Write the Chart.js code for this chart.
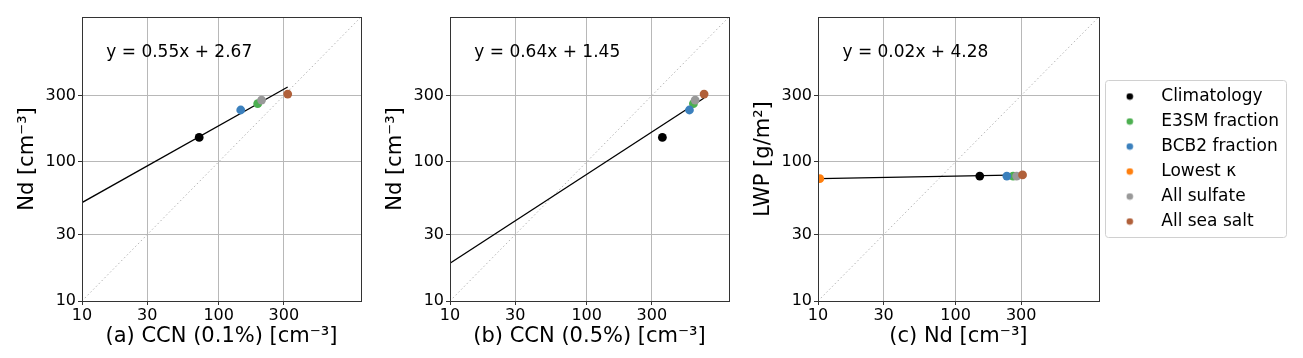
<!DOCTYPE html>
<html>
<head>
<meta charset="utf-8">
<script src="https://cdn.jsdelivr.net/npm/chart.js@4/dist/chart.umd.min.js"></script>
<style>
  body { margin: 0; background: #fff; width: 1303px; height: 358px; overflow: hidden; }
  canvas { position: absolute; top: 0; }
</style>
</head>
<body>
<canvas id="panel-a" width="368" height="358" style="left:0px"></canvas>
<canvas id="panel-b" width="368" height="358" style="left:368px"></canvas>
<canvas id="panel-c" width="567" height="358" style="left:736px"></canvas>
<script>
const categories = ["Climatology", "E3SM fraction", "BCB2 fraction", "Lowest \u03BA", "All sulfate", "All sea salt"];
const colors = ["#000000", "#4caf50", "#3b80bd", "#ff7f0e", "#999999", "#b0603a"];

// values; "Lowest κ" CCN lies left of the axis (off chart)
const nd = [150, 262, 236, 10.3, 278, 307];
const ccn01 = [72, 193, 145, 5, 206, 320];
const ccn05 = [358, 604, 565, 5, 622, 723];
const lwp = [79, 79, 79, 75.7, 79, 80.6];

const fitAX = [10, 320], fitAY = [51, 345];
const fitBX = [10, 723], fitBY = [18.7, 288];
const fitCX = [10.3, 307], fitCY = [75.7, 80.6];

const oneToOne = [10, 1100];
const tickVals = [10, 30, 100, 300];
const equations = ["y = 0.55x + 2.67", "y = 0.64x + 1.45", "y = 0.02x + 4.28"];

Chart.defaults.font.family = "'DejaVu Sans', sans-serif";
Chart.defaults.color = "#000";

function dotImage(color) {
	const c = document.createElement("canvas");
	c.width = 8;
	c.height = 8;
	const g = c.getContext("2d");
	g.fillStyle = color;
	g.beginPath();
	g.arc(4, 4, 3.3, 0, Math.PI * 2);
	g.fill();
	return c;
}

const framePlugin = {
	id: "frame",
	afterDraw(chart) {
		const { ctx, chartArea: a } = chart;
		ctx.save();
		ctx.strokeStyle = "#333";
		ctx.lineWidth = 1;
		ctx.strokeRect(Math.round(a.left) + 0.5, Math.round(a.top) + 0.5, Math.round(a.right - a.left), Math.round(a.bottom - a.top));
		ctx.fillStyle = "#000";
		ctx.font = "17px 'DejaVu Sans'";
		ctx.textBaseline = "middle";
		const eq = chart.options.plugins.frame.text;
		ctx.fillText(eq, a.left + 0.087 * (a.right - a.left), a.top + 0.126 * (a.bottom - a.top));
		ctx.restore();
	},
};

// keep the legend level with the plot area, then frame it
const legendBoxPlugin = {
	id: "legendBox",
	afterLayout(chart) {
		const lg = chart.legend;
		if (!lg || !lg.options.display) return;
		lg.top = chart.chartArea.top;
		lg.bottom = chart.chartArea.bottom;
		lg.height = lg.bottom - lg.top;
	},
	afterDraw(chart) {
		const lg = chart.legend;
		if (!lg || !lg.options.display || !lg.legendHitBoxes.length) return;
		const hb = lg.legendHitBoxes;
		const x0 = lg.left + 6;
		const x1 = Math.max(...hb.map((h) => h.left + h.width)) + 7;
		const y0 = hb[0].top - 8;
		const y1 = hb[hb.length - 1].top + hb[hb.length - 1].height + 7;
		const ctx = chart.ctx;
		ctx.save();
		ctx.strokeStyle = "#d0d0d0";
		ctx.lineWidth = 1;
		ctx.beginPath();
		ctx.roundRect(Math.round(x0) + 0.5, Math.round(y0) + 0.5, Math.round(x1 - x0), Math.round(y1 - y0), 3);
		ctx.stroke();
		ctx.restore();
	},
};

function logAxis(title, isX) {
	return {
		type: "logarithmic",
		min: 10,
		max: 1100,
		afterBuildTicks: (s) => {
			s.ticks = tickVals.map((v) => ({ value: v }));
		},
		afterFit: (s) => {
			if (isX) s.height = 57;
			else s.width = 82;
		},
		ticks: {
			callback: (v) => String(v),
			font: { size: 16 },
			color: "#000",
			padding: isX ? 1 : 2,
			autoSkip: false,
			maxRotation: 0,
		},
		grid: { color: "#b8b8b8", lineWidth: 1, tickColor: "#333", tickLength: 4 },
		border: { display: true, color: "#333" },
		title: {
			display: true,
			text: title,
			font: { size: 21 },
			color: "#000",
			padding: isX ? { top: 0, bottom: 9 } : { top: 15, bottom: 0 },
		},
	};
}

function makePanel(id, xs, ys, fitX, fitY, eq, xTitle, yTitle, withLegend) {
	const points = categories.map((name, i) => ({
		label: name,
		data: [{ x: xs[i], y: ys[i] }],
		backgroundColor: colors[i],
		borderColor: colors[i],
		pointRadius: 4.4,
		pointBorderWidth: 0,
		order: 10 - i,
	}));
	const datasets = [
		...points,
		{
			label: "fit",
			data: fitX.map((x, i) => ({ x, y: fitY[i] })),
			showLine: true,
			borderColor: "#000",
			borderWidth: 1.3,
			pointRadius: 0,
			order: 20,
		},
		{
			label: "1:1",
			data: oneToOne.map((v) => ({ x: v, y: v })),
			showLine: true,
			borderColor: "#b4b4b4",
			borderWidth: 1,
			borderDash: [1.5, 2.5],
			pointRadius: 0,
			order: 30,
		},
	];

	return new Chart(document.getElementById(id), {
		type: "scatter",
		data: { datasets },
		options: {
			responsive: false,
			animation: false,
			devicePixelRatio: 1,
			layout: { padding: { top: 17, left: 0, bottom: 0, right: withLegend ? 14 : 7 } },
			scales: { x: logAxis(xTitle, true), y: logAxis(yTitle, false) },
			plugins: {
				tooltip: { enabled: false },
				frame: { text: eq },
				legend: {
					display: withLegend,
					position: "right",
					maxWidth: 192,
					labels: {
						usePointStyle: true,
						pointStyleWidth: 46,
						boxHeight: 8,
						padding: 8,
						color: "#000",
						font: { size: 17 },
						filter: (item) => item.datasetIndex < categories.length,
						sort: (a, b) => a.datasetIndex - b.datasetIndex,
						generateLabels: (chart) =>
							Chart.defaults.plugins.legend.labels.generateLabels(chart).map((item) => ({
								...item,
								pointStyle: dotImage(colors[item.datasetIndex] || "#000"),
							})),
					},
				},
			},
		},
		plugins: [framePlugin, legendBoxPlugin],
	});
}

makePanel("panel-a", ccn01, nd, fitAX, fitAY, equations[0], "(a) CCN (0.1%) [cm\u207B\u00B3]", "Nd [cm\u207B\u00B3]", false);
makePanel("panel-b", ccn05, nd, fitBX, fitBY, equations[1], "(b) CCN (0.5%) [cm\u207B\u00B3]", "Nd [cm\u207B\u00B3]", false);
makePanel("panel-c", nd, lwp, fitCX, fitCY, equations[2], "(c) Nd [cm\u207B\u00B3]", "LWP [g/m\u00B2]", true);
</script>
</body>
</html>
